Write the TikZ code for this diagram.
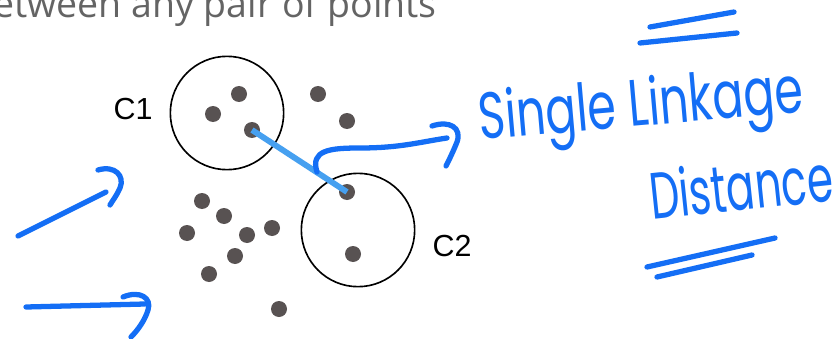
\documentclass[tikz,border=0pt]{standalone}
\usepackage{fontspec}
\setmainfont{Liberation Sans}
\newfontfamily\topfont{Open Sans}
\newfontfamily\penfont{Poppins}
\definecolor{dotgray}{RGB}{88,82,82}
\definecolor{linkblue}{RGB}{70,160,240}
\definecolor{penblue}{RGB}{20,110,245}
\definecolor{textgray}{RGB}{100,100,100}
\begin{document}
\begin{tikzpicture}[x=0.03cm,y=-0.03cm,
  pt/.style={circle,fill=dotgray,inner sep=0pt,minimum size=0.48cm},
  ring/.style={circle,draw,line width=1.4pt,inner sep=0pt,minimum size=3.4cm},
  pen/.style={penblue,line width=4.5pt,line cap=round,line join=round},
  handtext/.style={text=penblue,font=\penfont\fontsize{56}{60}\selectfont,inner sep=0pt}]
\useasboundingbox (0,0) rectangle (840,339);
\node[anchor=base west,text=textgray,font=\topfont\fontsize{32}{36}\selectfont,inner sep=0pt] (title) at (-7,18) {etween any pair of points};
% clusters
\node[ring] (c1) at (227,113) {};
\node[ring] (c2) at (358,230) {};
\node (c1label) at (133,109) {\fontsize{26}{28}\selectfont C1};
\node (c2label) at (452,246) {\fontsize{26}{28}\selectfont C2};
% points
\node[pt] (p1) at (239,94) {};
\node[pt] (p2) at (213,114) {};
\node[pt] (p3) at (252,130) {};
\node[pt] (p4) at (318,94) {};
\node[pt] (p5) at (347,121) {};
\node[pt] (p6) at (347,192) {};
\node[pt] (p7) at (353,254) {};
\node[pt] (p8) at (202,201) {};
\node[pt] (p9) at (224,216) {};
\node[pt] (p10) at (187,233) {};
\node[pt] (p11) at (247,235) {};
\node[pt] (p12) at (272,228) {};
\node[pt] (p13) at (235,256) {};
\node[pt] (p14) at (209,274) {};
\node[pt] (p15) at (279,309) {};
\draw [linkblue,line width=5pt] (p3.center) -- (p6.center);
% pen notes
\node[handtext,anchor=base west,rotate=5,xscale=0.7] (single) at (480,140) {Single Linkage};
\node[handtext,anchor=base west,rotate=6,xscale=0.64] (dist) at (652,220) {Distance};
\draw [pen] (317,172) .. controls (310,150) and (330,148) .. (360,148) .. controls (400,148) and (420,142) .. (447,138);
\draw [pen] (432,126) .. controls (450,120) and (462,128) .. (457,142) .. controls (453,152) and (449,160) .. (446,166);
\draw [pen] (18,236) -- (106,192);
\draw [pen] (98,170) .. controls (115,165) and (125,176) .. (120,188) .. controls (117,195) and (113,200) .. (110,205);
\draw [pen] (26,307) -- (145,304);
\draw [pen] (123,297) .. controls (140,290) and (152,298) .. (148,310) .. controls (145,320) and (138,330) .. (131,337);
\draw [pen] (650,27) -- (734,12);
\draw [pen] (640,43) -- (737,33);
\draw [pen] (647,267) -- (775,238);
\draw [pen] (657,277) -- (752,255);
\end{tikzpicture}
\end{document}
